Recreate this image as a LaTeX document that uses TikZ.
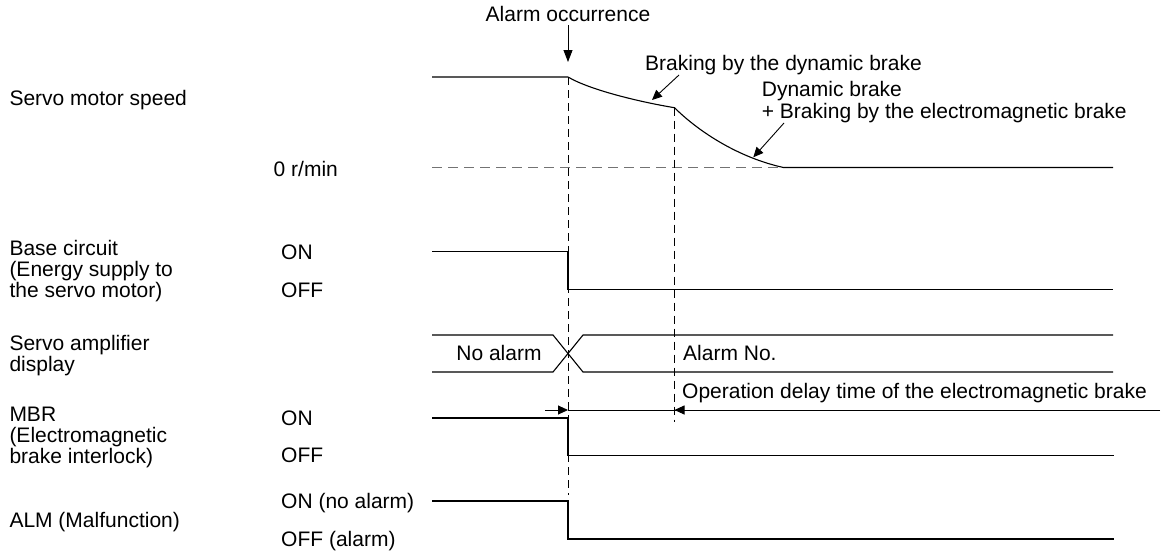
\documentclass[tikz,border=0pt]{standalone}
\usepackage{fontspec}
\setmainfont{Liberation Sans}
\usetikzlibrary{arrows.meta}
\begin{document}
\begin{tikzpicture}[x=1pt,y=-1pt,
  lbl/.style={anchor=base west,inner sep=0pt,font=\fontsize{21}{21}\selectfont},
  sig/.style={line width=1.1pt,black},
  guide/.style={line width=0.9pt,black,dash pattern=on 8pt off 5pt},
  zero/.style={line width=1.2pt,black!55,dash pattern=on 10pt off 6pt},
  arr/.style={line width=0.9pt,-{Triangle[length=10pt,width=9pt]}},
  bigarr/.style={line width=0.9pt,-{Triangle[length=12pt,width=9pt]}},
]
\useasboundingbox (0,0) rectangle (1162,554);

% ---------- left labels ----------
\node[lbl] (lspeed) at (9.3,105) {Servo motor speed};
\node[lbl] (lzero) at (273.5,176) {0 r/min};
\node[lbl] (lbase1) at (9.3,255) {Base circuit};
\node[lbl] (lbase2) at (9.3,276) {(Energy supply to};
\node[lbl] (lbase3) at (9.3,297.3) {the servo motor)};
\node[lbl] (lbon) at (281,259) {ON};
\node[lbl] (lboff) at (281,297.3) {OFF};
\node[lbl] (ldisp1) at (9.3,350) {Servo amplifier};
\node[lbl] (ldisp2) at (9.3,371) {display};
\node[lbl] (lmbr1) at (9.3,421.7) {MBR};
\node[lbl] (lmbr2) at (9.3,442.7) {(Electromagnetic};
\node[lbl] (lmbr3) at (9.3,463.3) {brake interlock)};
\node[lbl] (lmon) at (281,425.7) {ON};
\node[lbl] (lmoff) at (281,462.7) {OFF};
\node[lbl] (lalm) at (9.3,527.3) {ALM (Malfunction)};
\node[lbl] (laon) at (281,508.3) {ON (no alarm)};
\node[lbl] (laoff) at (281,546) {OFF (alarm)};

% ---------- speed ----------
\coordinate (s0) at (432,77);
\coordinate (s1) at (568,77);
\coordinate (s2) at (674.5,107.7);
\coordinate (s3) at (783.5,167.5);
\coordinate (s4) at (1113,167.5);
\coordinate (z0) at (432,167.5);
\draw[zero] (z0) -- (s3);
\draw[sig] (s0) -- (s1) .. controls (590,90) and (640,102) .. (s2)
  .. controls (700,133) and (740,158) .. (s3) -- (s4);

% alarm occurrence
\node[lbl,anchor=base] (alarm) at (568,21) {Alarm occurrence};
\coordinate (atip) at (568,62);
\draw[bigarr,shorten <=4pt] (alarm.south) -- (atip);

% guide lines
\coordinate (g1b) at (568,495);
\coordinate (g2b) at (674.5,422);
\draw[guide] (s1) -- (g1b);
\draw[guide] (s2) -- (g2b);

% braking labels
\node[lbl] (brk1) at (645,70) {Braking by the dynamic brake};
\coordinate (b1a) at (679,75);
\coordinate (b1t) at (652,100);
\draw[arr] (b1a) -- (b1t);
\node[lbl] (brk2a) at (761.7,96.7) {Dynamic brake};
\node[lbl] (brk2b) at (761.7,118.3) {+ Braking by the electromagnetic brake};
\coordinate (b2a) at (784,123);
\coordinate (b2t) at (753.3,157.3);
\draw[arr] (b2a) -- (b2t);

% ---------- base circuit ----------
\draw[sig] (432,251.7) -- (568,251.7) -- (568,289.3) -- (1113,289.3);

% ---------- display ----------
\draw[sig] (432,335) -- (553,335) -- (583,372) -- (1113,372);
\draw[sig] (432,372) -- (553,372) -- (583,335) -- (1113,335);
\node[lbl,anchor=base] (noalarm) at (499,360.5) {No alarm};
\node[lbl] (alarmno) at (683,360.5) {Alarm No.};

% ---------- MBR ----------
\draw[sig] (432,418) -- (568,418) -- (568,455.5) -- (1114,455.5);
\coordinate (d0) at (545,410);
\coordinate (d1) at (568,410);
\coordinate (d2) at (674.5,410);
\coordinate (d3) at (1160,410);
\draw[line width=0.9pt] (d1) -- (d3);
\draw[arr] (d0) -- (d1);
\draw[arr] (d3) -- (d2);
\node[lbl] (opdelay) at (682,398) {Operation delay time of the electromagnetic brake};

% ---------- ALM ----------
\draw[sig] (432,501) -- (568,501) -- (568,539) -- (1114,539);
\end{tikzpicture}
\end{document}
